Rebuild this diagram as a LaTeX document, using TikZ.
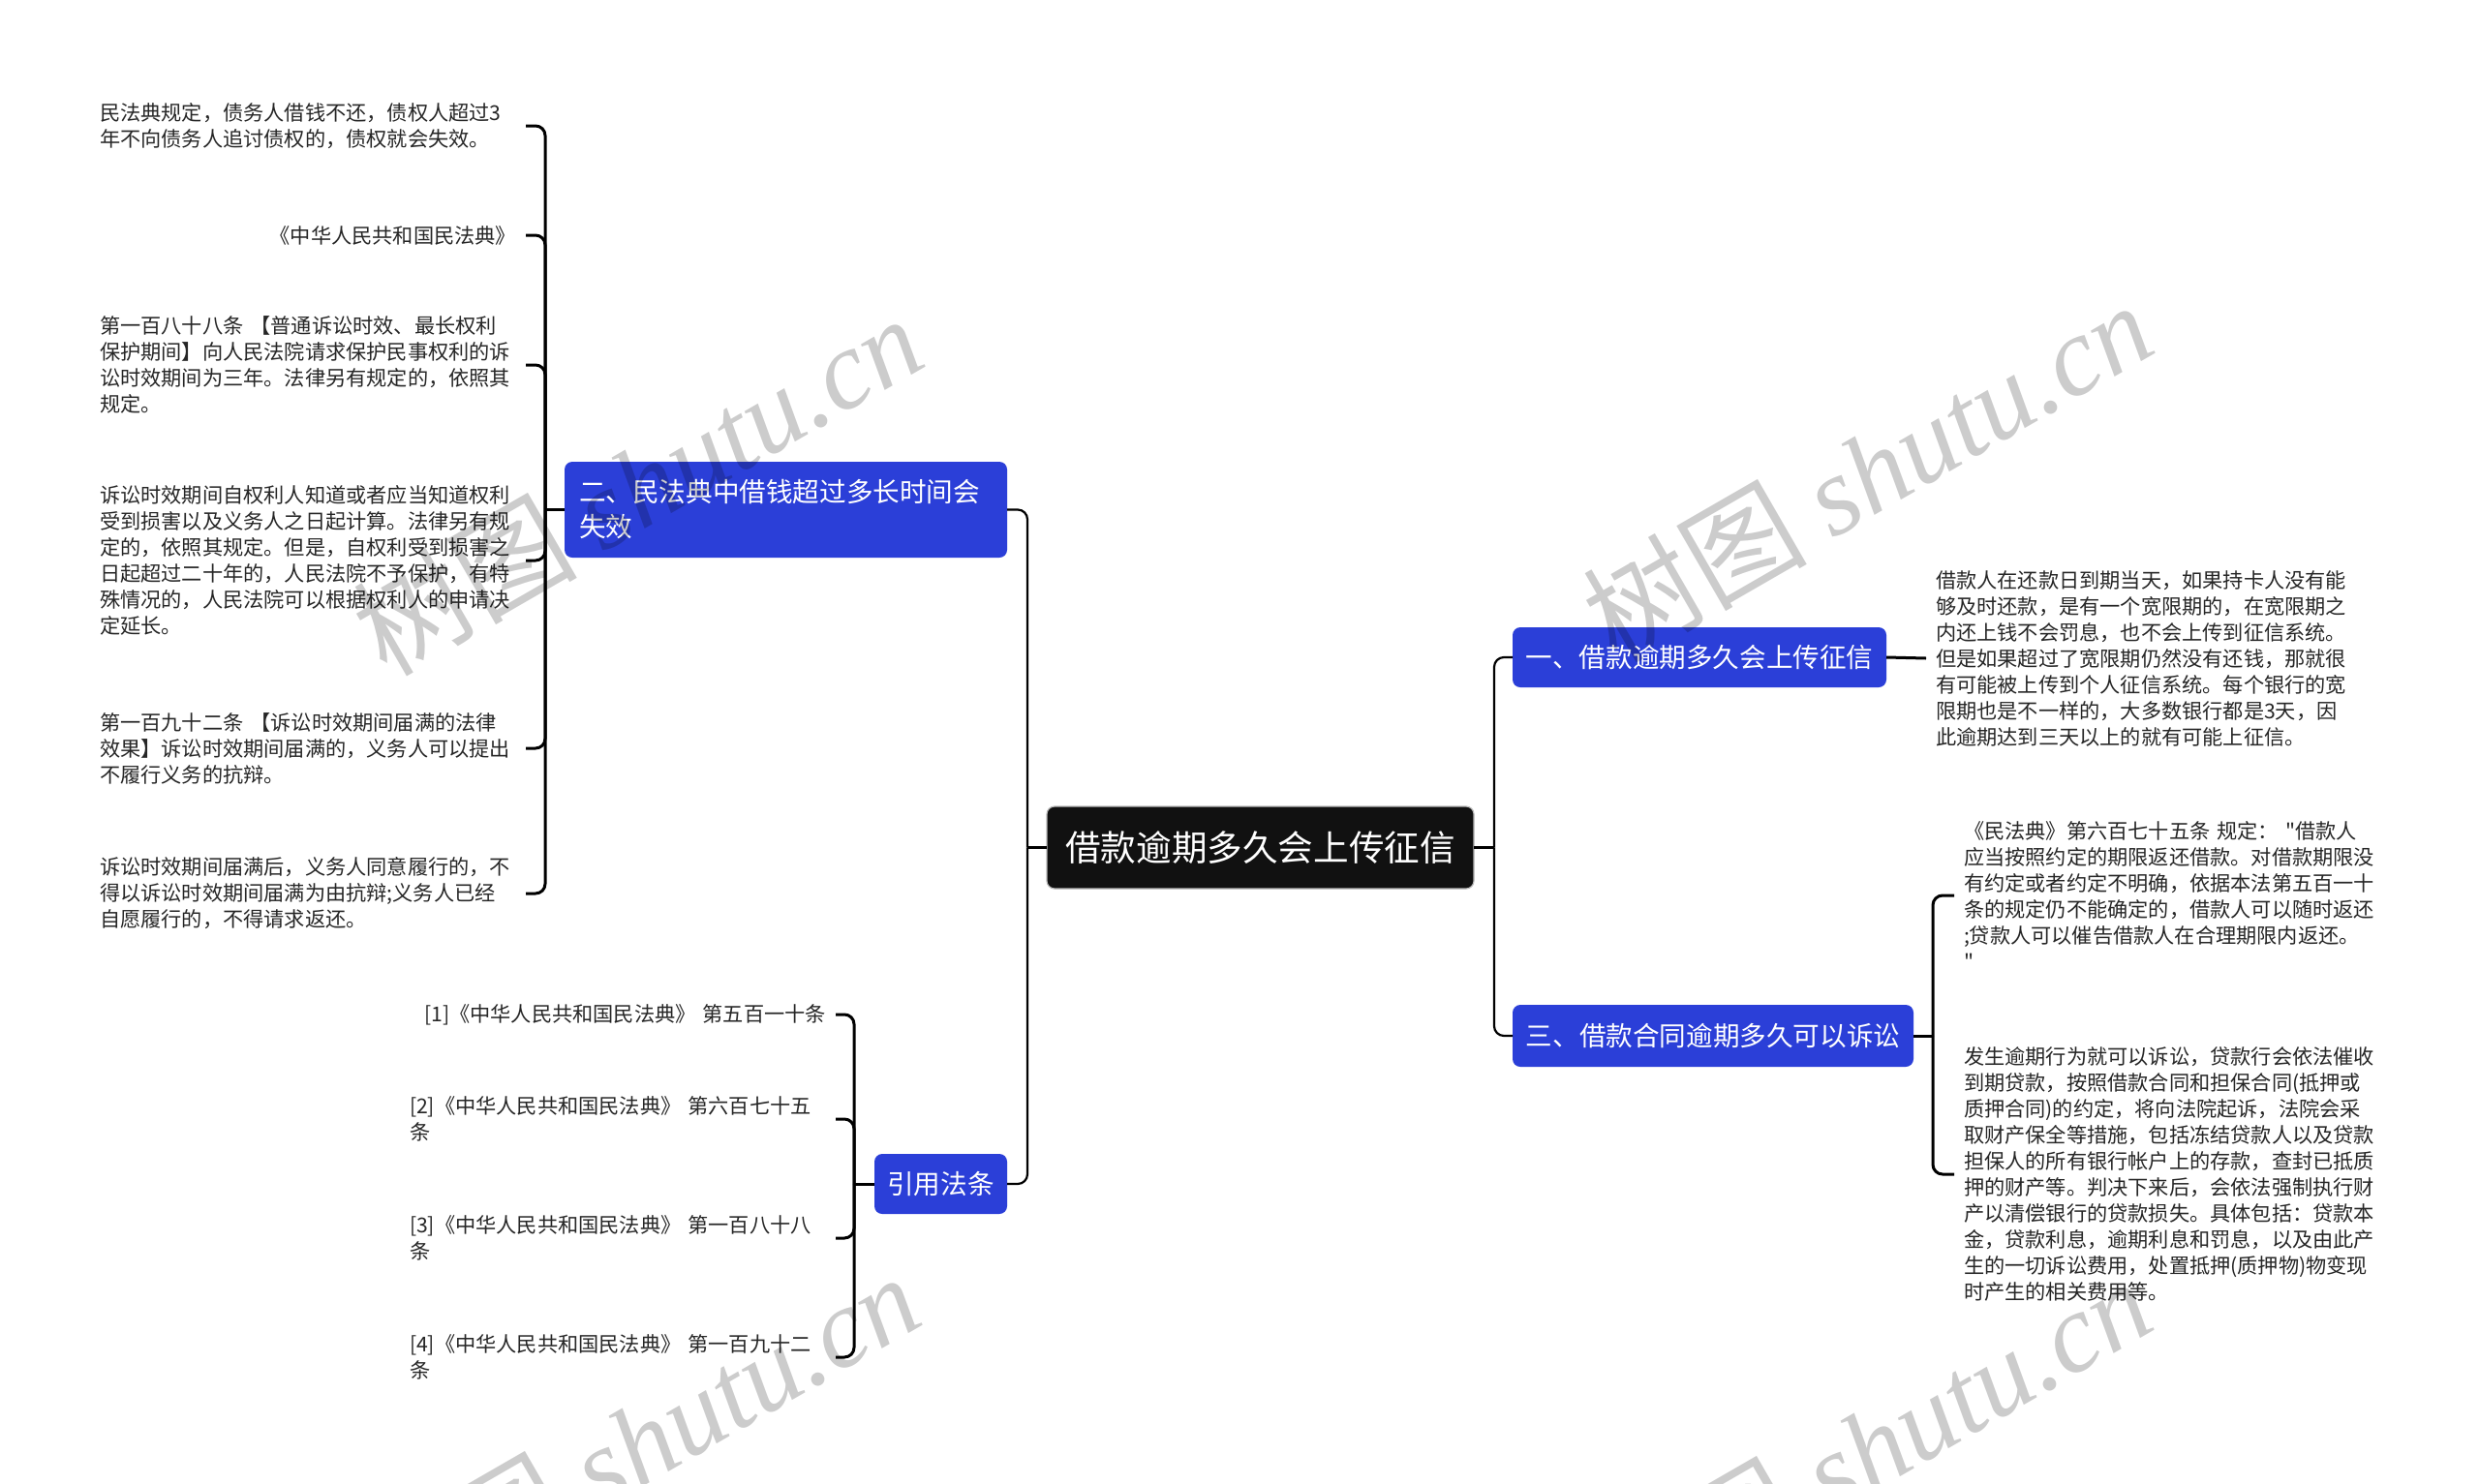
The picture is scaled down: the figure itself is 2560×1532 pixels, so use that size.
\documentclass[tikz,border=0pt]{standalone}
\usepackage{fontspec}
\newfontfamily\cjk{Noto Sans CJK SC}
\setmainfont{Noto Sans CJK SC}
\newfontfamily\wmlatin{Liberation Serif}
\definecolor{nodeblue}{RGB}{43,63,216}
\definecolor{rootblack}{RGB}{17,17,17}
\begin{document}
\begin{tikzpicture}[x=0.5pt,y=-0.5pt,
  every node/.style={inner sep=0pt, outer sep=0pt},
  rootnode/.style={fill=rootblack, draw=gray!55, line width=0.6pt, rounded corners=4pt, text=white,
    font=\cjk\fontsize{18.3}{22}\selectfont, minimum width=220.5pt, minimum height=42.5pt},
  topic/.style={fill=nodeblue, rounded corners=4pt, text=white,
    font=\cjk\fontsize{13.8}{18}\selectfont, minimum height=31pt},
  leaf/.style={text width=215pt, inner xsep=5pt, align=left,
    font=\cjk\fontsize{10.6}{13.5}\selectfont, text=black!85},
  spine/.style={line width=1.1pt, rounded corners=5pt, draw=black},
  twig/.style={line width=1.5pt, rounded corners=5pt, draw=black},
  wm/.style={rotate=30, text=black, text opacity=0.2, font=\cjk\fontsize{58}{58}\selectfont},
]
\path[use as bounding box, fill=white] (0,0) rectangle (2560,1532);
\clip (0,0) rectangle (2560,1532);

% main nodes
\node[rootnode] (root) at (1301.5,875.5) {借款逾期多久会上传征信};
\node[topic, minimum width=193pt] (n1) at (1755,679) {一、借款逾期多久会上传征信};
\node[topic, minimum width=207pt, minimum height=32pt] (n3) at (1769,1070) {三、借款合同逾期多久可以诉讼};
\node[topic, minimum height=49.5pt, text width=213.5pt, align=left, inner xsep=7.5pt] (n2) at (811.5,526.5) {二、民法典中借钱超过多长时间会\\失效};
\node[topic, minimum width=68.5pt] (nr) at (971.5,1223) {引用法条};

% left leaves of n2
\node[leaf] (c1) at (318,130) {民法典规定，债务人借钱不还，债权人超过3\\年不向债务人追讨债权的，债权就会失效。};
\node[leaf, align=right] (c2) at (318,243) {《中华人民共和国民法典》};
\node[leaf] (c3) at (318,377) {第一百八十八条 【普通诉讼时效、最长权利\\保护期间】向人民法院请求保护民事权利的诉\\讼时效期间为三年。法律另有规定的，依照其\\规定。};
\node[leaf] (c4) at (318,579) {诉讼时效期间自权利人知道或者应当知道权利\\受到损害以及义务人之日起计算。法律另有规\\定的，依照其规定。但是，自权利受到损害之\\日起超过二十年的，人民法院不予保护，有特\\殊情况的，人民法院可以根据权利人的申请决\\定延长。};
\node[leaf] (c5) at (318,773) {第一百九十二条 【诉讼时效期间届满的法律\\效果】诉讼时效期间届满的，义务人可以提出\\不履行义务的抗辩。};
\node[leaf] (c6) at (318,923) {诉讼时效期间届满后，义务人同意履行的，不\\得以诉讼时效期间届满为由抗辩;义务人已经\\自愿履行的，不得请求返还。};

% references
\node[leaf, align=right] (r1) at (638,1048) {[1]《中华人民共和国民法典》 第五百一十条};
\node[leaf] (r2) at (638,1156) {[2]《中华人民共和国民法典》 第六百七十五\\条};
\node[leaf] (r3) at (638,1279) {[3]《中华人民共和国民法典》 第一百八十八\\条};
\node[leaf] (r4) at (638,1402) {[4]《中华人民共和国民法典》 第一百九十二\\条};

% right leaves
\node[leaf] (t1) at (2214,680) {借款人在还款日到期当天，如果持卡人没有能\\够及时还款，是有一个宽限期的，在宽限期之\\内还上钱不会罚息，也不会上传到征信系统。\\但是如果超过了宽限期仍然没有还钱，那就很\\有可能被上传到个人征信系统。每个银行的宽\\限期也是不一样的，大多数银行都是3天，因\\此逾期达到三天以上的就有可能上征信。};
\node[leaf] (t2) at (2243,925) {《民法典》第六百七十五条 规定： "借款人\\应当按照约定的期限返还借款。对借款期限没\\有约定或者约定不明确，依据本法第五百一十\\条的规定仍不能确定的，借款人可以随时返还\\;贷款人可以催告借款人在合理期限内返还。\\"};
\node[leaf] (t3) at (2243,1213) {发生逾期行为就可以诉讼，贷款行会依法催收\\到期贷款，按照借款合同和担保合同(抵押或\\质押合同)的约定，将向法院起诉，法院会采\\取财产保全等措施，包括冻结贷款人以及贷款\\担保人的所有银行帐户上的存款，查封已抵质\\押的财产等。判决下来后，会依法强制执行财\\产以清偿银行的贷款损失。具体包括：贷款本\\金，贷款利息，逾期利息和罚息，以及由此产\\生的一切诉讼费用，处置抵押(质押物)物变现\\时产生的相关费用等。};

% spine connectors
\coordinate (sl) at (1061,875.5);
\coordinate (sr) at (1543,875.5);
\draw[spine] (n2.east) -| (sl);
\draw[spine] (nr.east) -| (sl);
\draw[spine] (root.west) -- (sl);
\draw[spine] (n1.west) -| (sr);
\draw[spine] (n3.west) -| (sr);
\draw[spine] (root.east) -- (sr);

% n2 bracket
\coordinate (b2) at (563,526.5);
\draw[twig] (n2.west) -- (b2);
\foreach \c in {c1,c2,c3,c4,c5,c6} { \draw[twig] (b2) |- (\c.east); }

% references bracket
\coordinate (br) at (882,1223);
\draw[twig] (nr.west) -- (br);
\foreach \c in {r1,r2,r3,r4} { \draw[twig] (br) |- (\c.east); }

% right side
\draw[twig] (n1.east) -- (t1.west);
\coordinate (b3) at (1996,1070);
\draw[twig] (n3.east) -- (b3);
\draw[twig] (b3) |- (t2.west);
\draw[twig] (b3) |- (t3.west);

% watermarks
\node[wm] (w1) at (658,500) {树图 {\wmlatin\itshape shutu.cn}};
\node[wm] (w2) at (1928,486) {树图 {\wmlatin\itshape shutu.cn}};
\node[wm] (w3) at (655,1490) {树图 {\wmlatin\itshape shutu.cn}};
\node[wm] (w4) at (1927,1495) {树图 {\wmlatin\itshape shutu.cn}};
\end{tikzpicture}
\end{document}
